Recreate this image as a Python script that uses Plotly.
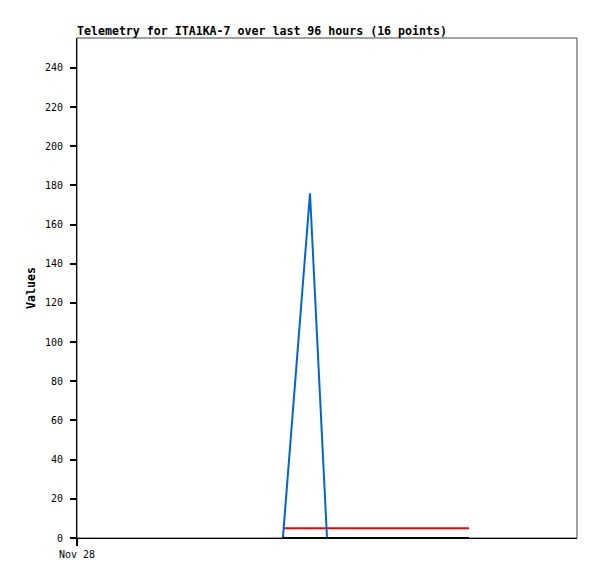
import plotly.graph_objects as go

times = ["2023-11-28 09:53", "2023-11-28 11:11", "2023-11-28 12:00", "2023-11-28 12:32",
         "2023-11-28 13:03", "2023-11-28 13:35", "2023-11-28 14:06", "2023-11-28 14:38",
         "2023-11-28 15:09", "2023-11-28 15:41", "2023-11-28 16:12", "2023-11-28 16:44",
         "2023-11-28 17:15", "2023-11-28 17:47", "2023-11-28 18:18", "2023-11-28 18:49"]
blue_vals = [0, 176, 0, 0, 0, 0, 0, 0, 0, 0, 0, 0, 0, 0, 0, 0]
red_vals = [5] * 16
black_vals = [0] * 16
x_tick_vals = ["2023-11-28 00:00"]
x_tick_text = ["Nov 28"]
y_tick_vals = list(range(0, 241, 20))

fig = go.Figure()
fig.add_trace(go.Scatter(x=times, y=red_vals, mode="lines", line=dict(color="#ff0000", width=2),
                         showlegend=False))
fig.add_trace(go.Scatter(x=times, y=blue_vals, mode="lines", line=dict(color="#0066cc", width=2),
                         showlegend=False))
fig.add_trace(go.Scatter(x=times, y=black_vals, mode="lines", line=dict(color="#000000", width=2),
                         showlegend=False))

mono = "DejaVu Sans Mono"
W, H = 589, 571
fig.update_layout(
    width=W, height=H,
    margin=dict(l=69, r=20, t=30, b=41),
    paper_bgcolor="white", plot_bgcolor="white",
    title=dict(text="<b>Telemetry for ITA1KA-7 over last 96 hours (16 points)</b>",
               x=69/W, xanchor="left", y=1-23/H, yanchor="middle",
               font=dict(family=mono, size=11.6, color="black")),
    xaxis=dict(range=["2023-11-28 00:00", "2023-11-29 00:00"], tickvals=x_tick_vals, ticktext=x_tick_text,
               ticks="outside", ticklen=7, tickcolor="#000000", tickwidth=2, showline=True, linecolor="black",
               linewidth=1, showgrid=False, zeroline=False, tickfont=dict(family=mono, size=10, color="black")),
    yaxis=dict(range=[0, 255.3], tickvals=y_tick_vals, ticks="outside", ticklen=6,
               tickcolor="#000000", tickwidth=1.5, ticklabelstandoff=5,
               showline=True, linecolor="black", linewidth=1, showgrid=False, zeroline=False,
               tickfont=dict(family=mono, size=10, color="black"),
               title=dict(text="<b>Values</b>", font=dict(family=mono, size=11.6, color="black"), standoff=6)),
    shapes=[dict(type="rect", xref="paper", yref="paper", x0=0, x1=1, y0=0, y1=1,
                 line=dict(color="#444444", width=1), layer="below")],
)
fig.write_html("out.html")
